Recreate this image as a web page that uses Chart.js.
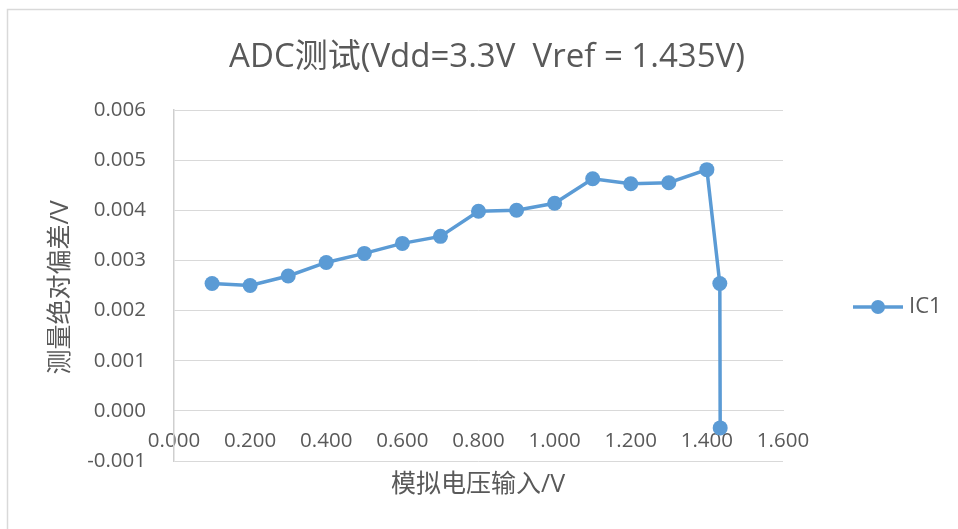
<!DOCTYPE html>
<html>
<head>
<meta charset="utf-8">
<title>ADC测试</title>
<script src="https://cdn.jsdelivr.net/npm/chart.js@4/dist/chart.umd.min.js"></script>
<style>
  html, body { margin: 0; padding: 0; background: #fff; }
  #chart { display: block; }
</style>
</head>
<body>
<canvas id="chart" width="958" height="529"></canvas>
<script>
// data
const seriesName = 'IC1';
const inputVolts = [0.1, 0.2, 0.3, 0.4, 0.5, 0.6, 0.7, 0.8, 0.9, 1.0, 1.1, 1.2, 1.3, 1.4, 1.434, 1.435];
const absError = [0.00254, 0.0025, 0.00269, 0.00296, 0.00314, 0.00334, 0.00348, 0.00398, 0.004, 0.00414,
                  0.00463, 0.00453, 0.00455, 0.00481, 0.00254, -0.00034];
const xTicks = [0, 1.6, 0.2];        // min, max, step
const yTicks = [-0.001, 0.006, 0.001];

const titleText = 'ADC测试(Vdd=3.3V  Vref = 1.435V)';
const xTitle = '模拟电压输入/V';
const yTitle = '测量绝对偏差/V';

const blue = '#5B9BD5';
const grey = '#595959';
const gridGrey = '#d9d9d9';
const fontFamily = '"Open Sans", "Noto Sans CJK SC", sans-serif';

const points = inputVolts.map((x, i) => ({ x: x, y: absError[i] }));

// frame, titles and legend drawn on the canvas
const extras = {
  id: 'extras',
  beforeDraw(chart) {
    const ctx = chart.ctx;
    ctx.save();
    ctx.strokeStyle = gridGrey;
    ctx.lineWidth = 1.5;
    ctx.beginPath();
    ctx.moveTo(7.5, chart.height);
    ctx.lineTo(7.5, 9.5);
    ctx.lineTo(chart.width, 9.5);
    ctx.stroke();
    ctx.restore();
  },
  afterDraw(chart) {
    const ctx = chart.ctx;
    const area = chart.chartArea;
    ctx.save();
    ctx.fillStyle = grey;
    ctx.textAlign = 'center';
    ctx.textBaseline = 'middle';
    ctx.font = '33px ' + fontFamily;
    ctx.fillText(titleText, 487, 58);

    ctx.font = '25px ' + fontFamily;
    ctx.fillText(xTitle, 478, 485);

    ctx.translate(61, (area.top + area.bottom) / 2 + 2);
    ctx.rotate(-Math.PI / 2);
    ctx.fillText(yTitle, 0, 0);
    ctx.restore();

    // legend
    const ly = 307;
    ctx.save();
    ctx.strokeStyle = blue;
    ctx.lineWidth = 3.5;
    ctx.beginPath();
    ctx.moveTo(853, ly);
    ctx.lineTo(903, ly);
    ctx.stroke();
    ctx.fillStyle = blue;
    ctx.beginPath();
    ctx.arc(878, ly, 7, 0, Math.PI * 2);
    ctx.fill();
    ctx.fillStyle = grey;
    ctx.font = '22px ' + fontFamily;
    ctx.textAlign = 'left';
    ctx.textBaseline = 'middle';
    ctx.fillText(seriesName, 909, ly);
    ctx.restore();
  }
};

new Chart(document.getElementById('chart'), {
  type: 'scatter',
  data: {
    datasets: [{
      label: seriesName,
      data: points,
      showLine: true,
      borderColor: blue,
      backgroundColor: blue,
      borderWidth: 3.5,
      pointRadius: 7.5,
      pointHoverRadius: 7.5,
      pointBorderWidth: 0,
      tension: 0
    }]
  },
  options: {
    responsive: false,
    animation: false,
    layout: { padding: { left: 0, right: 175, top: 110, bottom: 68 } },
    plugins: {
      legend: { display: false },
      tooltip: { enabled: false },
      title: { display: false }
    },
    scales: {
      x: {
        type: 'linear',
        position: { y: 0 },
        min: xTicks[0],
        max: xTicks[1],
        grid: { display: false, drawTicks: false },
        border: { display: true, color: gridGrey, width: 1 },
        ticks: {
          stepSize: xTicks[2],
          color: grey,
          padding: 18,
          font: { family: fontFamily, size: 20.5 },
          callback: v => v.toFixed(3)
        }
      },
      y: {
        type: 'linear',
        position: 'left',
        min: yTicks[0],
        max: yTicks[1],
        afterFit(scale) { scale.width = 174; },
        grid: { color: gridGrey, lineWidth: 1, drawTicks: false },
        border: { display: true, color: '#cfcfcf', width: 1.5 },
        ticks: {
          stepSize: yTicks[2],
          color: grey,
          padding: 28,
          font: { family: fontFamily, size: 20.5 },
          callback: v => v.toFixed(3)
        }
      }
    }
  },
  plugins: [extras]
});
</script>
</body>
</html>
